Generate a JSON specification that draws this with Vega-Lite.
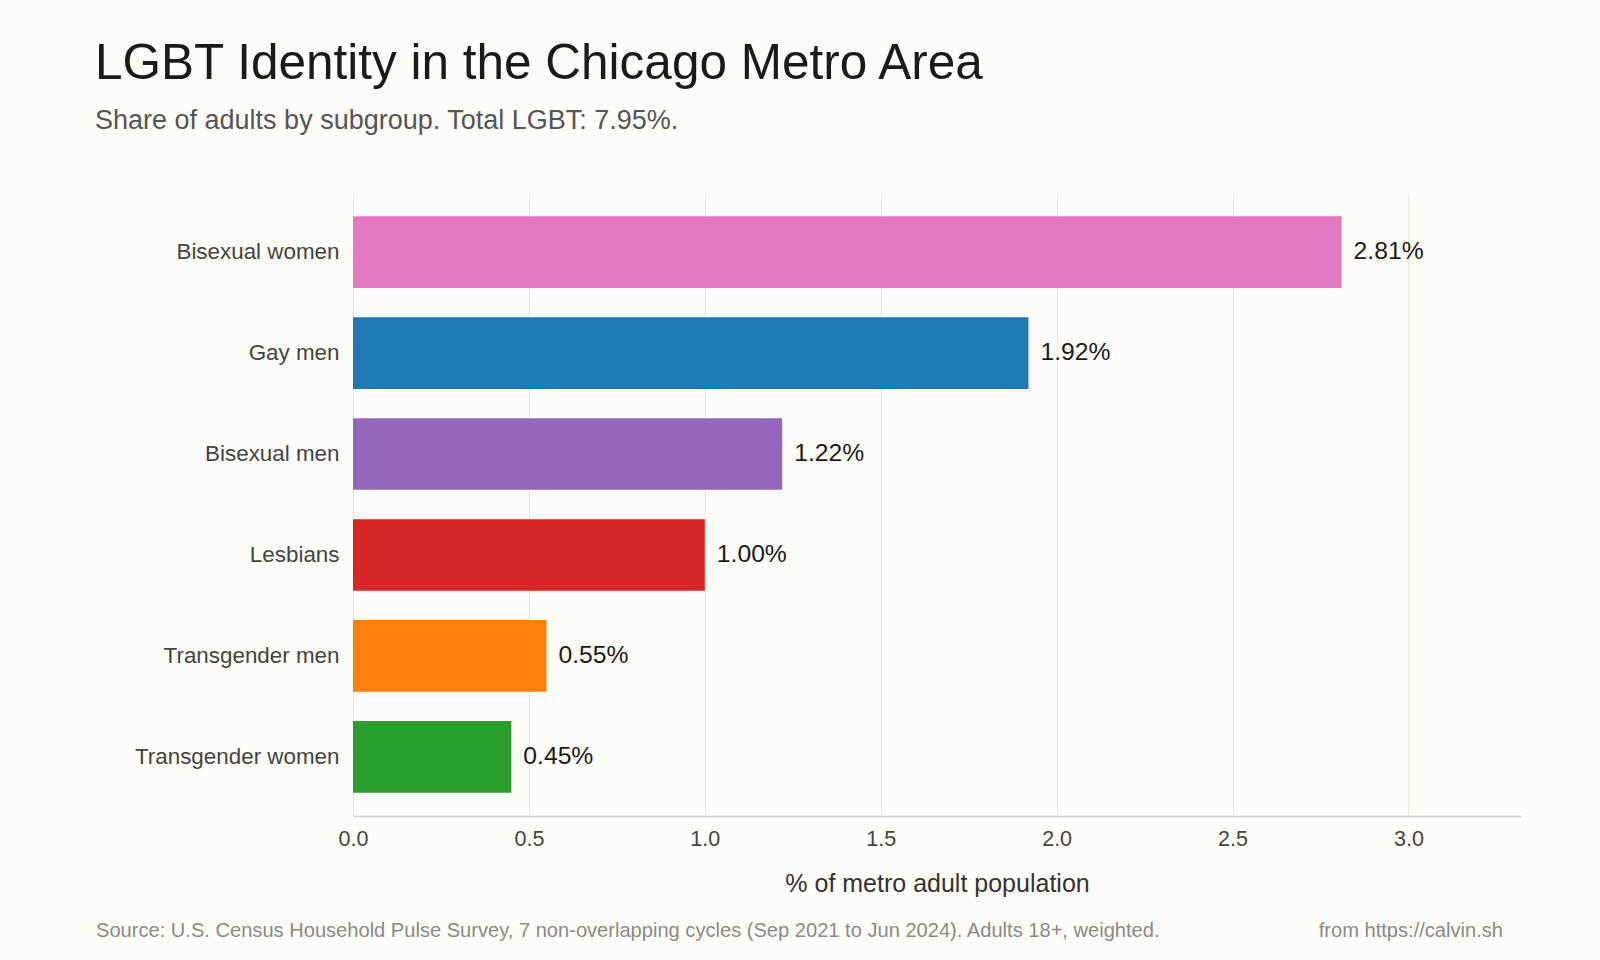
{
  "$schema": "https://vega.github.io/schema/vega-lite/v6.json",
  "autosize": {"type": "none"},
  "padding": {"left": 353, "top": 193, "right": 79, "bottom": 144},
  "width": 1168,
  "height": 623,
  "background": "#fdfcf8",
  "title": {
    "text": "LGBT Identity in the Chicago Metro Area",
    "subtitle": "Share of adults by subgroup. Total LGBT: 7.95%.",
    "anchor": "start",
    "frame": "group",
    "dx": -258,
    "offset": 58,
    "font": "Liberation Sans",
    "fontSize": 49.5,
    "fontWeight": "normal",
    "color": "#1a1a1a",
    "subtitleFont": "Liberation Sans",
    "subtitleFontSize": 27,
    "subtitleColor": "#555555",
    "subtitlePadding": 19
  },
  "config": {
    "view": {"stroke": null},
    "font": "Liberation Sans"
  },
  "datasets": {
    "bars": [
      {"group": "Bisexual women", "value": 2.81, "label": "2.81%"},
      {"group": "Gay men", "value": 1.92, "label": "1.92%"},
      {"group": "Bisexual men", "value": 1.22, "label": "1.22%"},
      {"group": "Lesbians", "value": 1.00, "label": "1.00%"},
      {"group": "Transgender men", "value": 0.55, "label": "0.55%"},
      {"group": "Transgender women", "value": 0.45, "label": "0.45%"}
    ],
    "notes": [
      {"note": "Source: U.S. Census Household Pulse Survey, 7 non-overlapping cycles (Sep 2021 to Jun 2024). Adults 18+, weighted.", "side": "left"},
      {"note": "from https://calvin.sh", "side": "right"}
    ]
  },
  "layer": [
    {
      "data": {"name": "bars"},
      "mark": {"type": "bar"},
      "encoding": {
        "y": {
          "field": "group",
          "type": "nominal",
          "sort": null,
          "scale": {"paddingInner": 0.29, "paddingOuter": 0.23},
          "axis": {
            "title": null,
            "ticks": false,
            "domain": false,
            "labelFontSize": 22.4,
            "labelColor": "#444444",
            "labelPadding": 14,
            "labelLimit": 400,
            "labelFont": "Liberation Sans"
          }
        },
        "x": {
          "field": "value",
          "type": "quantitative",
          "scale": {"domain": [0, 3.32], "nice": false},
          "axis": {
            "title": "% of metro adult population",
            "titleFontSize": 25,
            "titleFontWeight": "normal",
            "titleColor": "#333333",
            "titlePadding": 22,
            "values": [0, 0.5, 1, 1.5, 2, 2.5, 3],
            "format": ".1f",
            "labelFontSize": 21.5,
            "labelColor": "#444444",
            "labelPadding": 12,
            "labelFlush": false,
            "ticks": false,
            "tickSize": 0,
            "domainColor": "#d0d0d0",
            "domainWidth": 1.5,
            "gridColor": "#e6e6e6",
            "gridWidth": 1
          }
        },
        "color": {
          "field": "group",
          "type": "nominal",
          "scale": {
            "domain": ["Bisexual women", "Gay men", "Bisexual men", "Lesbians", "Transgender men", "Transgender women"],
            "range": ["#e377c2", "#1f77b4", "#9467bd", "#d62728", "#ff7f0e", "#2ca02c"]
          },
          "legend": null
        }
      }
    },
    {
      "data": {"name": "bars"},
      "mark": {"type": "text", "align": "left", "baseline": "middle", "dx": 12, "fontSize": 24.7, "color": "#1a1a1a"},
      "encoding": {
        "y": {"field": "group", "type": "nominal", "sort": null},
        "x": {"field": "value", "type": "quantitative"},
        "text": {"field": "label"}
      }
    },
    {
      "data": {"name": "notes"},
      "transform": [{"filter": "datum.side === 'left'"}],
      "mark": {"type": "text", "align": "left", "baseline": "alphabetic", "fontSize": 20.1, "color": "#8a8a8a"},
      "encoding": {
        "x": {"value": -257},
        "y": {"value": 744},
        "text": {"field": "note"}
      }
    },
    {
      "data": {"name": "notes"},
      "transform": [{"filter": "datum.side === 'right'"}],
      "mark": {"type": "text", "align": "right", "baseline": "alphabetic", "fontSize": 20.1, "color": "#8a8a8a"},
      "encoding": {
        "x": {"value": 1150},
        "y": {"value": 744},
        "text": {"field": "note"}
      }
    }
  ]
}
